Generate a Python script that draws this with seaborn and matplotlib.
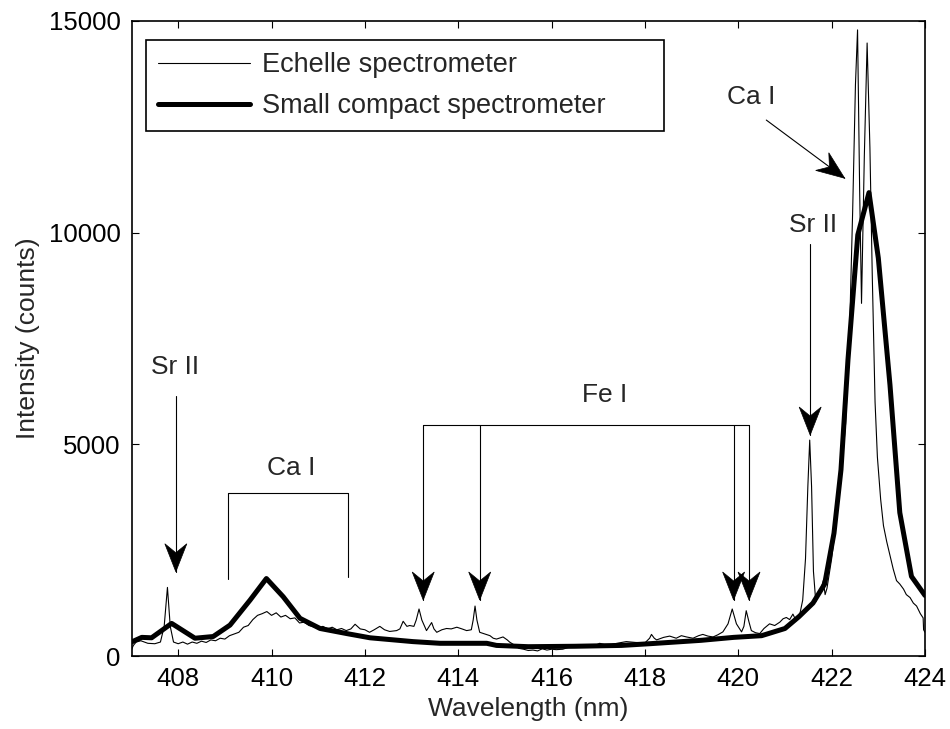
import numpy as np
import pandas as pd
import matplotlib
matplotlib.use("Agg")
import matplotlib.pyplot as plt
from matplotlib.patches import Polygon
from matplotlib.transforms import IdentityTransform
import seaborn as sns

# ---------------- data ----------------
echelle_wl = [407.0, 407.04, 407.1, 407.2, 407.35, 407.5, 407.62, 407.7, 407.77, 407.83, 407.9,
              408.0, 408.1, 408.2, 408.3, 408.4, 408.5, 408.6, 408.7, 408.8, 408.9, 409.0,
              409.1, 409.2, 409.3, 409.4, 409.5, 409.6, 409.7, 409.8, 409.9, 410.0, 410.1,
              410.2, 410.3, 410.4, 410.5, 410.6, 410.7, 410.8, 410.9, 411.0, 411.1, 411.2,
              411.3, 411.4, 411.5, 411.6, 411.7, 411.79, 411.9, 412.0, 412.1, 412.2, 412.32,
              412.42, 412.53, 412.68, 412.75, 412.82, 412.9, 412.96, 413.05, 413.1, 413.16,
              413.22, 413.32, 413.43, 413.48, 413.54, 413.65, 413.75, 413.85, 413.97, 414.08,
              414.18, 414.28, 414.32, 414.36, 414.4, 414.46, 414.57, 414.68, 414.75, 414.82,
              414.96, 415.05, 415.1, 415.2, 415.3, 415.4, 415.5, 415.6, 415.7, 415.8, 415.9,
              416.0, 416.1, 416.24, 416.35, 416.5, 416.7, 416.9, 417.03, 417.2, 417.4, 417.6,
              417.8, 418.0, 418.1, 418.14, 418.2, 418.25, 418.4, 418.53, 418.67, 418.78,
              418.89, 419.03, 419.15, 419.24, 419.35, 419.46, 419.56, 419.67, 419.78, 419.87,
              419.96, 420.07, 420.12, 420.17, 420.23, 420.28, 420.37, 420.46, 420.55, 420.67,
              420.78, 420.89, 420.96, 421.03, 421.1, 421.17, 421.24, 421.32, 421.38, 421.44,
              421.49, 421.53, 421.57, 421.61, 421.66, 421.75, 421.82, 421.86, 421.9, 422.0,
              422.1, 422.2, 422.3, 422.38, 422.45, 422.51, 422.555, 422.6, 422.64, 422.7,
              422.76, 422.82, 422.87, 422.93, 422.98, 423.05, 423.11, 423.18, 423.25, 423.32,
              423.39, 423.46, 423.54, 423.6, 423.68, 423.75, 423.82, 423.9, 423.96, 423.97,
              424.0]
echelle_counts = [150, 250, 330, 360, 300, 290, 330, 700, 1620, 700, 330,
                  290, 330, 280, 330, 300, 350, 320, 380, 360, 420, 400,
                  480, 520, 560, 680, 720, 860, 960, 1000, 1050, 960, 1020,
                  920, 960, 880, 900, 780, 800, 720, 690, 660, 700, 640,
                  680, 620, 650, 600, 640, 750, 640, 620, 560, 620, 700,
                  620, 580, 600, 640, 820, 700, 720, 700, 850, 1110,
                  850, 600, 790, 640, 560, 620, 650, 640, 680, 640,
                  600, 620, 850, 1180, 850, 560, 520, 480, 420, 400,
                  450, 380, 330, 260, 180, 160, 130, 140, 120, 170, 140,
                  160, 150, 160, 200, 220, 210, 230, 300, 250, 300, 340,
                  320, 310, 420, 510, 420, 380, 440, 470, 420, 480,
                  450, 420, 480, 510, 470, 450, 500, 570, 760, 1110,
                  760, 570, 700, 1070, 800, 600, 550, 530, 650, 760,
                  720, 800, 880, 910, 860, 990, 830, 1000, 1320, 2300,
                  4000, 5100, 4000, 2000, 1280, 1500, 1780, 1450, 1600, 2300,
                  3200, 4200, 5500, 7500, 10500, 13500, 14790, 11000, 8330, 11800,
                  14480, 12000, 9000, 6000, 4700, 3700, 3080, 2700, 2380, 2050,
                  1780, 1700, 1580, 1450, 1380, 1250, 1180, 1000, 900, 620,
                  560]

compact_wl = [407.0, 407.22, 407.43, 407.86, 408.36, 408.75, 409.11, 409.54, 409.89, 410.25,
              410.61, 411.04, 411.61, 412.11, 413.03, 413.61, 414.61, 414.82, 415.5, 416.5,
              417.5, 418.1, 419.2, 419.9, 420.5, 421.0, 421.3, 421.6, 421.85, 422.05, 422.2,
              422.35, 422.56, 422.8, 423.0, 423.25, 423.46, 423.71, 424.0]
compact_counts = [330, 440, 430, 770, 420, 460, 730, 1320, 1830, 1400,
                  890, 650, 530, 430, 340, 300, 300, 250, 220, 230,
                  250, 290, 370, 440, 480, 650, 930, 1250, 1700, 2900, 4400,
                  7000, 9946, 10946, 9400, 6400, 3387, 1880, 1430]

series_names = ["Echelle spectrometer", "Small compact spectrometer"]
x_ticks = [408, 410, 412, 414, 416, 418, 420, 422, 424]
y_ticks = [0, 5000, 10000, 15000]

df_e = pd.DataFrame({"wl": echelle_wl, "counts": echelle_counts})
df_c = pd.DataFrame({"wl": compact_wl, "counts": compact_counts})

# ---------------- style ----------------
sns.set_theme(style="ticks")
plt.rcParams["font.family"] = ["Liberation Sans", "DejaVu Sans"]
plt.rcParams["axes.linewidth"] = 1.2
plt.rcParams["xtick.direction"] = "in"
plt.rcParams["ytick.direction"] = "in"

fig = plt.figure(figsize=(9.5, 7.29), dpi=100)
ax = fig.add_axes([131.5 / 950, 73 / 729, 793.5 / 950, 635 / 729])

sns.lineplot(data=df_e, x="wl", y="counts", ax=ax, color="black", linewidth=0.8,
             label=series_names[0], sort=False)
sns.lineplot(data=df_c, x="wl", y="counts", ax=ax, color="black", linewidth=3.6,
             label=series_names[1], sort=False)

ax.set_xlim(407, 424)
ax.set_ylim(0, 15000)
ax.set_xticks(x_ticks)
ax.set_yticks(y_ticks)
ax.tick_params(axis="both", which="both", labelsize=18.5, length=5, width=0.8,
               top=True, right=True, direction="in", pad=8, colors="black")
for s in ax.spines.values():
    s.set_color("black")
ax.set_xlabel("Wavelength (nm)", fontsize=19, labelpad=4)
ax.set_ylabel("Intensity (counts)", fontsize=19, labelpad=6)

leg_h = (131 - 40) / 635
leg = ax.legend(loc="upper left", bbox_to_anchor=(0.018, 0.97 - leg_h, 0.653, leg_h),
                mode="expand", frameon=True,
                fancybox=False, edgecolor="black", framealpha=1, fontsize=19.5,
                handlelength=3.4, handletextpad=0.45, labelspacing=0.55,
                borderpad=0.45, borderaxespad=0)
leg.get_frame().set_linewidth(1.2)

# ---------------- annotations ----------------
def head(x0, y0, x1, y1, L=28, W=11, notch=9):
    p0 = np.array(ax.transData.transform((x0, y0)))
    p1 = np.array(ax.transData.transform((x1, y1)))
    d = (p1 - p0) / np.linalg.norm(p1 - p0)
    n = np.array([-d[1], d[0]])
    pts = [p1, p1 - d * L + n * W, p1 - d * (L - notch), p1 - d * L - n * W]
    ax.add_patch(Polygon(pts, closed=True, facecolor="black", edgecolor="black",
                         linewidth=0.5, transform=IdentityTransform(), clip_on=False))

def arrow(x0, y0, x1, y1):
    ax.plot([x0, x1], [y0, y1], color="black", linewidth=0.8)
    head(x0, y0, x1, y1)

fs = 19
# Sr II left
ax.text(407.93, 6830, "Sr II", ha="center", va="center", fontsize=fs)
arrow(407.95, 6130, 407.95, 1990)
# Ca I bracket
ax.text(410.43, 4440, "Ca I", ha="center", va="center", fontsize=fs)
ax.plot([409.07, 409.07, 411.64, 411.64], [1810, 3843, 3843, 1860], color="black", linewidth=0.8)
# Fe I bracket
ax.text(417.14, 6170, "Fe I", ha="center", va="center", fontsize=fs)
ax.plot([413.25, 420.23], [5457, 5457], color="black", linewidth=0.8)
for xf in [413.25, 414.46, 419.9, 420.23]:
    arrow(xf, 5457, xf, 1323)
# Sr II right
ax.text(421.6, 10180, "Sr II", ha="center", va="center", fontsize=fs)
arrow(421.54, 9730, 421.54, 5220)
# Ca I right
ax.text(420.28, 13210, "Ca I", ha="center", va="center", fontsize=fs)
arrow(420.6, 12660, 422.28, 11285)

fig.savefig("out.png", dpi=100)
